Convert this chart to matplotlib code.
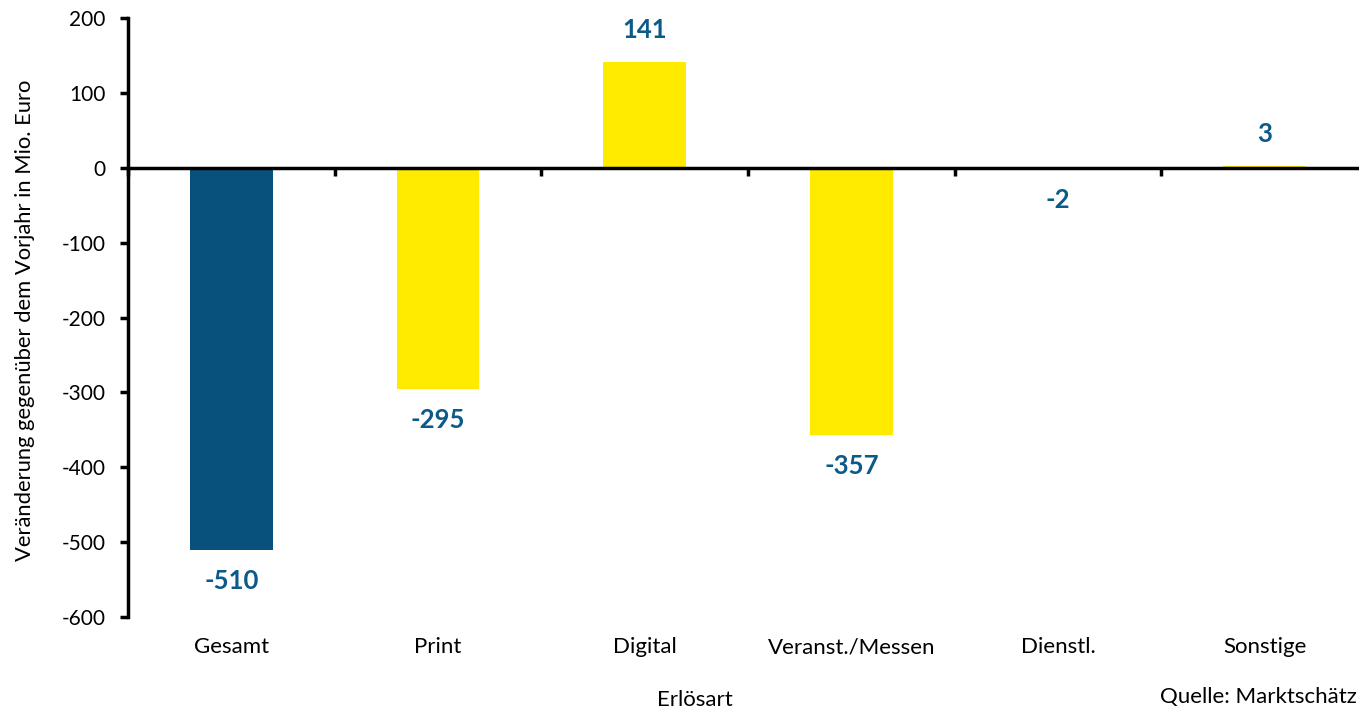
import matplotlib
matplotlib.use("Agg")
import matplotlib.pyplot as plt
import numpy as np

categories = ["Gesamt", "Print", "Digital", "Veranst./Messen", "Dienstl.", "Sonstige"]
values = [-510, -295, 141, -357, -2, 3]
bar_colors = ["#07517c", "#ffeb00", "#ffeb00", "#ffeb00", "#ffeb00", "#ffeb00"]
yticks = [-600, -500, -400, -300, -200, -100, 0, 100, 200]

plt.rcParams['font.family'] = ['Lato', 'DejaVu Sans']

W, H = 1359, 709
fig = plt.figure(figsize=(W / 100, H / 100), dpi=100)
left, right, top, bottom = 128, 1368, 18, 617
ax = fig.add_axes([left / W, 1 - bottom / H, (right - left) / W, (bottom - top) / H])

x = np.arange(len(categories))
ax.bar(x, values, width=0.40, color=bar_colors, zorder=2)

ax.set_ylim(-600, 200)
ax.set_xlim(-0.5, len(categories) - 0.5)
ax.set_yticks(yticks)
ax.set_yticklabels([str(t) for t in yticks], fontsize=15)

for s in ["top", "right"]:
    ax.spines[s].set_visible(False)
ax.spines["left"].set_linewidth(2.5)
ax.spines["bottom"].set_position(("data", 0))
ax.spines["bottom"].set_linewidth(2.5)
ax.spines["bottom"].set_zorder(3)

ax.set_xticks(np.arange(len(categories) + 1) - 0.5)
ax.set_xticklabels([])
ax.tick_params(axis="x", direction="out", length=6, width=2.5)
ax.tick_params(axis="y", direction="out", length=6, width=2.5, pad=10)

label_color = "#0b5a8a"
for xi, v in zip(x, values):
    yoff = 32 if v >= 0 else -31
    ax.annotate(str(v), (xi, v), xytext=(0, yoff * 0.72), textcoords="offset points",
                ha="center", va="center", fontsize=18.5, fontweight="bold", color=label_color)

trans = ax.get_xaxis_transform()
for xi, c in zip(x, categories):
    ax.text(xi, -30 / 599, c, transform=trans, ha="center", va="center", fontsize=16)

fig.text(695 / W, 1 - 700 / H, "Erlösart", ha="center", va="center", fontsize=16)
fig.text(1357 / W, 1 - 697 / H, "Quelle: Marktschätz", ha="right", va="center", fontsize=16)
fig.text(25 / W, 1 - 320 / H, "Veränderung gegenüber dem Vorjahr in Mio. Euro",
         rotation=90, ha="center", va="center", fontsize=15.8)

fig.savefig("out.png", dpi=100)
